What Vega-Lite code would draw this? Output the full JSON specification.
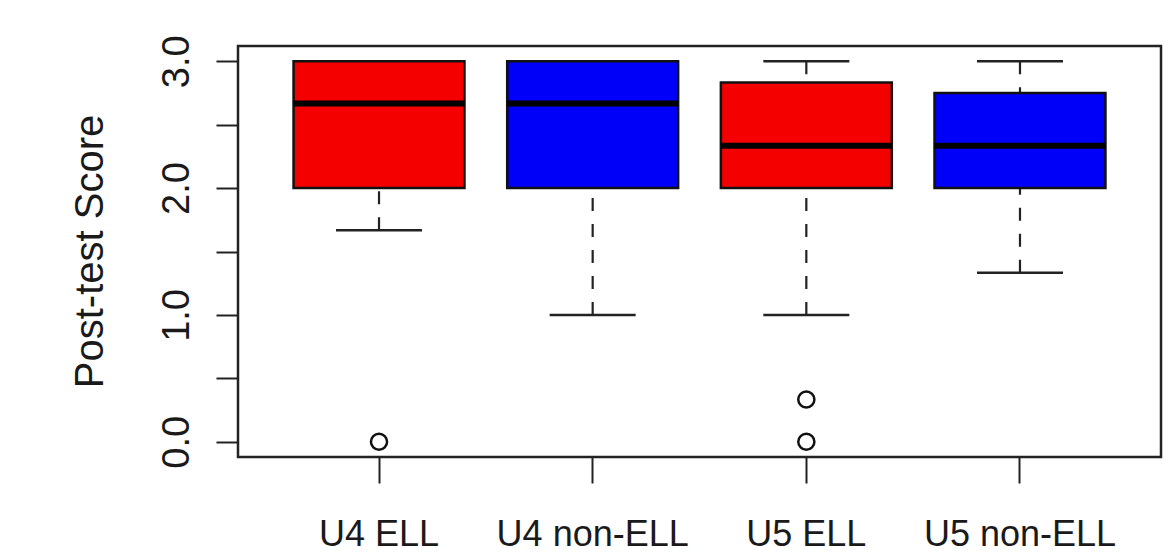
{
  "$schema": "https://vega.github.io/schema/vega-lite/v6.json",
  "autosize": {"type": "none"},
  "padding": {"left": 238, "top": 46, "right": 7, "bottom": 96},
  "width": 923,
  "height": 411,
  "background": "white",
  "config": {
    "view": {"stroke": "#222222", "strokeWidth": 2.5},
    "axis": {"grid": false}
  },
  "datasets": {
    "boxes": [
      {"group": "U4 ELL", "kind": "ELL", "lower": 1.667, "q1": 2.0, "median": 2.667, "q3": 3.0, "upper": 3.0},
      {"group": "U4 non-ELL", "kind": "non-ELL", "lower": 1.0, "q1": 2.0, "median": 2.667, "q3": 3.0, "upper": 3.0},
      {"group": "U5 ELL", "kind": "ELL", "lower": 1.0, "q1": 2.0, "median": 2.333, "q3": 2.833, "upper": 3.0},
      {"group": "U5 non-ELL", "kind": "non-ELL", "lower": 1.333, "q1": 2.0, "median": 2.333, "q3": 2.75, "upper": 3.0}
    ],
    "outliers": [
      {"group": "U4 ELL", "value": 0.0},
      {"group": "U5 ELL", "value": 0.333},
      {"group": "U5 ELL", "value": 0.0}
    ]
  },
  "encoding": {
    "x": {
      "field": "group",
      "type": "nominal",
      "scale": {"type": "band", "domain": ["U4 ELL", "U4 non-ELL", "U5 ELL", "U5 non-ELL"], "paddingInner": 0.2, "paddingOuter": 0.26},
      "axis": {
        "title": null,
        "domain": false,
        "ticks": true,
        "tickSize": 26,
        "tickWidth": 2,
        "tickColor": "#222222",
        "labelAngle": 0,
        "labelFont": "Liberation Sans",
        "labelFontSize": 36,
        "labelLimit": 0,
        "labelColor": "#1a1a1a",
        "labelBaseline": "alphabetic",
        "labelPadding": 62
      }
    }
  },
  "layer": [
    {
      "data": {"name": "boxes"},
      "mark": {"type": "rule", "strokeDash": [13, 13], "strokeWidth": 2.2, "color": "#222222"},
      "encoding": {
        "y": {
          "field": "lower",
          "type": "quantitative",
          "scale": {"domain": [-0.12, 3.12], "nice": false, "zero": false},
          "axis": {
            "title": "Post-test Score",
            "values": [0, 0.5, 1, 1.5, 2, 2.5, 3],
            "labelExpr": "datum.value % 1 === 0 ? format(datum.value, '.1f') : ''",
            "domain": false,
            "tickSize": 22,
            "tickWidth": 2,
            "tickColor": "#222222",
            "labelAngle": 270,
            "labelAlign": "center",
            "labelBaseline": "alphabetic",
            "labelPadding": 28,
            "labelFont": "Liberation Sans",
            "labelFontSize": 38,
            "labelColor": "#1a1a1a",
            "labelOverlap": false,
            "labelFlush": false,
            "titleFont": "Liberation Sans",
            "titleFontSize": 40,
            "titleFontWeight": "normal",
            "titleColor": "#1a1a1a",
            "titleAngle": 270,
            "titleAlign": "center",
            "titleBaseline": "alphabetic",
            "titleX": -136,
            "titleY": 205
          }
        },
        "y2": {"field": "q1"}
      }
    },
    {
      "data": {"name": "boxes"},
      "mark": {"type": "rule", "strokeDash": [13, 13], "strokeWidth": 2.2, "color": "#222222"},
      "encoding": {
        "y": {"field": "upper", "type": "quantitative"},
        "y2": {"field": "q3"}
      }
    },
    {
      "data": {"name": "boxes"},
      "mark": {"type": "tick", "orient": "horizontal", "size": 86, "thickness": 2.5, "color": "#222222", "opacity": 1},
      "encoding": {"y": {"field": "lower", "type": "quantitative"}}
    },
    {
      "data": {"name": "boxes"},
      "mark": {"type": "tick", "orient": "horizontal", "size": 86, "thickness": 2.5, "color": "#222222", "opacity": 1},
      "encoding": {"y": {"field": "upper", "type": "quantitative"}}
    },
    {
      "data": {"name": "boxes"},
      "mark": {"type": "bar", "stroke": "#111111", "strokeWidth": 2.5, "opacity": 1},
      "encoding": {
        "y": {"field": "q1", "type": "quantitative"},
        "y2": {"field": "q3"},
        "fill": {
          "field": "kind",
          "type": "nominal",
          "scale": {"domain": ["ELL", "non-ELL"], "range": ["#f50000", "#0000fa"]},
          "legend": null
        }
      }
    },
    {
      "data": {"name": "boxes"},
      "mark": {"type": "tick", "orient": "horizontal", "size": 171, "thickness": 6, "color": "#000000", "opacity": 1},
      "encoding": {"y": {"field": "median", "type": "quantitative"}}
    },
    {
      "data": {"name": "outliers"},
      "mark": {"type": "point", "shape": "circle", "filled": false, "size": 260, "strokeWidth": 2.5, "color": "#111111", "opacity": 1},
      "encoding": {"y": {"field": "value", "type": "quantitative"}}
    }
  ]
}
